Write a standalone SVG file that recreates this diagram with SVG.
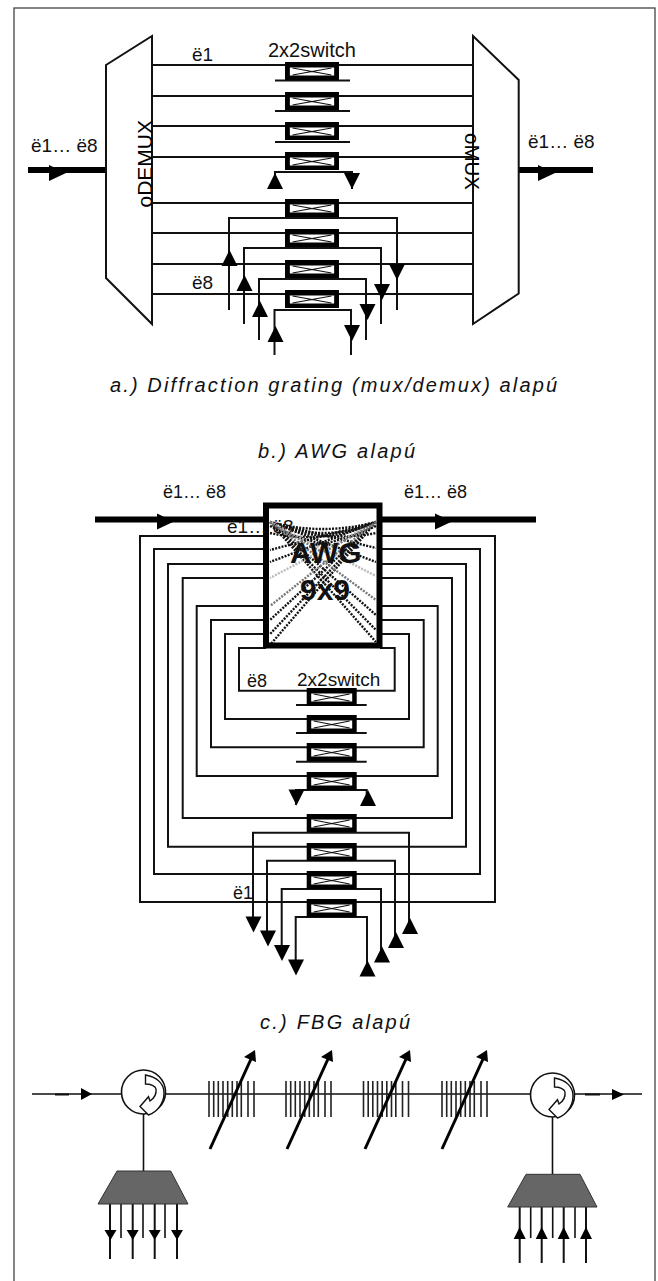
<svg xmlns="http://www.w3.org/2000/svg" width="658" height="1281" viewBox="0 0 658 1281">
<style>
text{font-family:"Liberation Sans",Arial,sans-serif;fill:#111}
.l{font-size:19px}
.cap{font-size:20px;font-style:italic}
.big{font-size:30px;font-weight:bold}
.w{fill:none;stroke:#111;stroke-width:2}
.t{fill:none;stroke:#111;stroke-width:1.6}
.thick{fill:none;stroke:#000;stroke-width:6}
.mux{fill:#fff;stroke:#111;stroke-width:2}
.dot{fill:none;stroke:#111;stroke-width:2.4;stroke-dasharray:2 1.3}
.dg{fill:none;stroke:#777;stroke-width:2.4;stroke-dasharray:2 1.3}
.dl{fill:none;stroke:#bbb;stroke-width:2.4;stroke-dasharray:2 1.3}
.tr{fill:#000}
.gr{stroke:#222;stroke-width:1.6}
.tune{stroke:#000;stroke-width:3;fill:none}
.fil{fill:#666;stroke:#333;stroke-width:1}
</style>
<defs>
<g id="sw"><rect x="0" y="0" width="50" height="18" fill="#000"/><rect x="4.500" y="5.500" width="41" height="8" fill="#fff"/><path d="M7 6L43 13M7 13L43 6" fill="none" stroke="#111" stroke-width="1.200"/></g>
<polygon id="u" class="tr" points="0,0 8,16 -8,16"/>
<polygon id="d" class="tr" points="0,0 8,-16 -8,-16"/>
<polygon id="su" class="tr" points="0,0 6,12 -6,12"/>
<polygon id="sd" class="tr" points="0,0 6,-10 -6,-10"/>
<polygon id="r" class="tr" points="0,-8 17,0 0,8"/>
<g id="grat"><path class="gr" d="M0 0V36M4.700 0V36M9.300 0V36M14 0V36M18.700 0V36M23.300 0V36M28 0V36M32.300 0V36M39 0V36M45 0V36"/></g>
<g id="tn"><path class="tune" d="M0 99L41 9"/><polygon class="tr" points="45,0 46,12 34,7"/></g>
<path id="circ" d="M2 -17C14 -15 20.500 -8 20.500 1C20.500 11 14 20 5 23L-3.500 14.500L5 4.700L6.500 9C11 6 13 1 12.500 -3C12 -6 7 -8 2 -8Z" fill="#fff" stroke="#111" stroke-width="1.400"/>
</defs>

<rect id="frame" x="14" y="8" width="641" height="1290" fill="#fff" stroke="#444" stroke-width="1.3"/>

<g id="connectors">
<path class="w" d="M152 65H473M152 96H473M152 126H473M152 157H473M152 203H473M152 233H473M152 264H473M152 294H473"/>
<path class="w" d="M275 80.500H350M275 111H350M275 142H350"/>
<path class="w" d="M275 189V172H352V189"/>
<path class="w" d="M229 310V218H397V310M244 324V248H381V324M259 340V279H366V340M274.500 355V310H351V355"/>
<path class="thick" d="M28 170H106M517 170H593"/>
<use href="#u" x="275" y="173"/><use href="#d" x="352" y="189"/>
<use href="#u" x="229.500" y="250"/><use href="#d" x="397" y="280"/>
<use href="#u" x="244.500" y="275"/><use href="#d" x="382" y="300"/>
<use href="#u" x="260" y="301"/><use href="#d" x="367.500" y="320"/>
<use href="#u" x="275.500" y="326"/><use href="#d" x="352" y="341"/>
<use href="#r" x="49" y="173"/><use href="#r" x="538" y="173"/>

<path class="thick" d="M95 519.500H266M380 519.500H536"/>
<path class="w" d="M266 536H140V902H495V536H380M266 549H154V874H480V549H380M266 564H168V846.700H466V564H380M266 578H182.700V818H452V578H380M266 606H196.700V776H437.700V606H380M266 620H211V747.300H423.700V620H380M266 634H225V719H409V634H380M266 648H239V690.700H394.700V648H380"/>
<path class="w" d="M296 705H366.700M296 733H366.700M296 761.700H366.700"/>
<path class="w" d="M296 805V790H366.700V800"/>
<path class="w" d="M253 925V832.700H409V925M267 940V860.700H395V940M281.700 955V889H381V955M295.700 970V917H367V970"/>
<use href="#d" x="296.500" y="805.500"/><use href="#u" x="368" y="790"/>
<use href="#d" x="253.500" y="932.500"/><use href="#u" x="410" y="918"/>
<use href="#d" x="268" y="946.500"/><use href="#u" x="396" y="932"/>
<use href="#d" x="282" y="961"/><use href="#u" x="382" y="946.500"/>
<use href="#d" x="296" y="975.500"/><use href="#u" x="367.500" y="960.500"/>
<use href="#r" x="157" y="521.500"/><use href="#r" x="435" y="521.500"/>

<path class="t" d="M32 1094H122M165 1094H530M574 1094H642"/>
<path class="w" d="M55 1094.500H69M585 1094.500H600"/>
<polygon class="tr" points="81,1088 92,1094 81,1100"/>
<polygon class="tr" points="612,1089 624,1094.500 612,1100"/>
<path class="t" d="M143.500 1114V1171M552.500 1117V1174"/>
<path class="w" d="M110 1204V1259M132.700 1204V1259M154.700 1204V1259M177 1204V1259"/>
<path class="t" d="M121 1204V1238M143 1204V1238M165 1204V1238"/>
<use href="#sd" x="110.500" y="1240"/><use href="#sd" x="132.700" y="1240"/><use href="#sd" x="154.700" y="1240"/><use href="#sd" x="177" y="1240"/>
<path class="w" d="M519.700 1207V1263M541.700 1207V1263M563.700 1207V1263M586 1207V1263"/>
<path class="t" d="M530.700 1203V1238M552.700 1203V1238M575 1203V1238"/>
<use href="#su" x="519.700" y="1227"/><use href="#su" x="541.700" y="1227"/><use href="#su" x="563.700" y="1227"/><use href="#su" x="586" y="1227"/>
</g>

<g id="demux"><polygon class="mux" points="106,65 152,36 152,324 106,278" fill-opacity="0"/><text style="font-size:21px;fill:#000" transform="translate(151.500 207.500) rotate(-90)">oDEMUX</text></g>
<g id="mux"><polygon class="mux" points="473,36 518.700,80 518.700,293.500 473,324"/><text style="font-size:20.500px;fill:#000" transform="translate(465 133) rotate(90)">oMUX</text></g>

<g id="switches-a">
<use href="#sw" transform="translate(285 62) scale(1.08 1)"/>
<use href="#sw" transform="translate(285 92) scale(1.08 1)"/>
<use href="#sw" transform="translate(285 122) scale(1.08 1)"/>
<use href="#sw" transform="translate(285 152) scale(1.08 1)"/>
<use href="#sw" transform="translate(285 199) scale(1.08 1)"/>
<use href="#sw" transform="translate(285 229) scale(1.08 1)"/>
<use href="#sw" transform="translate(285 260) scale(1.08 1)"/>
<use href="#sw" transform="translate(285 290) scale(1.08 1)"/>
</g>
<g id="labels-a">
<text class="l" x="31" y="152">ë1… ë8</text>
<text class="l" x="528" y="148">ë1… ë8</text>
<text class="l" x="192" y="61">ë1</text>
<text class="l" x="192" y="289">ë8</text>
<text x="268" y="57" style="font-size:20px">2x2switch</text>
</g>

<text id="caption-a" class="cap" x="110" y="392" textLength="447">a.) Diffraction grating (mux/demux) alapú</text>
<text id="caption-b" class="cap" x="258" y="458" textLength="157">b.) AWG alapú</text>

<g id="awg">
<rect x="266" y="505.500" width="113.500" height="140" fill="#fff" stroke="#000" stroke-width="6"/>
<text class="l" x="227" y="533">ë1… ë8</text>
<path class="dot" d="M270 522Q322 536 376 522M270 522Q320 544 376 533M270 522Q325 544 376 522M270 533Q325 545 376 522M270 526Q300 540 330 545M376 526Q346 540 316 545"/>
<path class="dot" d="M270 522L376 548M270 522L376 562M270 522L376 615M270 522L376 630M270 522L376 642"/>
<path class="dl" d="M270 522L376 576M376 522L270 578"/>
<path class="dot" d="M376 522L270 550M376 522L270 562M376 522L270 620M376 522L270 634M376 522L270 645"/>
<path class="dg" d="M376 522L270 606M270 522L376 600M272 524L322 552M374 524L324 552"/>
<text class="big" x="290" y="563">AWG</text>
<text class="big" x="300" y="600">9x9</text>
</g>

<g id="switches-b">
<use href="#sw" x="306.700" y="688"/>
<use href="#sw" x="306.700" y="715"/>
<use href="#sw" x="306.700" y="743"/>
<use href="#sw" x="306.700" y="772"/>
<use href="#sw" x="306.700" y="814"/>
<use href="#sw" x="306.700" y="843"/>
<use href="#sw" x="306.700" y="871"/>
<use href="#sw" x="306.700" y="899"/>
</g>
<g id="labels-b">
<text class="l" x="163" y="498" style="font-size:18px">ë1… ë8</text>
<text class="l" x="404" y="498" style="font-size:18px">ë1… ë8</text>
<text class="l" x="247" y="687" style="font-size:18px">ë8</text>
<text class="l" x="297" y="685.500">2x2switch</text>
<text class="l" x="233" y="899" style="font-size:18px">ë1</text>
</g>

<text id="caption-c" class="cap" x="260" y="1029" textLength="150">c.) FBG alapú</text>

<g id="circulator-in"><circle cx="143.500" cy="1092" r="22" fill="#fff" stroke="#111" stroke-width="1.600"/><use href="#circ" x="143.500" y="1092"/></g>
<g id="circulator-out"><circle cx="552.500" cy="1095" r="22" fill="#fff" stroke="#111" stroke-width="1.600"/><use href="#circ" x="552.500" y="1095"/></g>
<g id="grating-1"><use href="#grat" x="209" y="1081"/><use href="#tn" x="210" y="1050"/></g>
<g id="grating-2"><use href="#grat" x="286" y="1081"/><use href="#tn" x="287" y="1050"/></g>
<g id="grating-3"><use href="#grat" x="363.500" y="1081"/><use href="#tn" x="365" y="1050"/></g>
<g id="grating-4"><use href="#grat" x="442" y="1081"/><use href="#tn" x="442" y="1050"/></g>
<g id="filter-in"><polygon class="fil" points="117,1171 170.700,1171 188,1204 98,1204"/></g>
<g id="filter-out"><polygon class="fil" points="526,1174.300 580,1174.300 597,1207 507.700,1207"/></g>
</svg>
